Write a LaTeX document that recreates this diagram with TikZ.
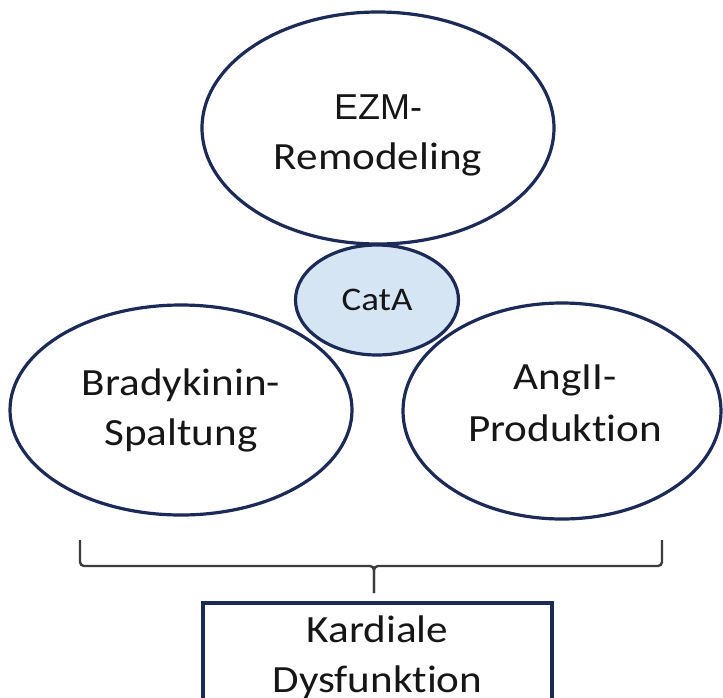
\documentclass[tikz,border=0pt]{standalone}
\usepackage{fontspec}
\setmainfont{Carlito}[FakeStretch=1.12, Ligatures={NoCommon}]
\newfontfamily\arialfont{Liberation Sans}
\usetikzlibrary{shapes.geometric}
\definecolor{navy}{HTML}{1B2A56}
\definecolor{catfill}{HTML}{D5E5F4}
\definecolor{txt}{HTML}{161616}
\definecolor{bracecol}{HTML}{3C3C3C}
\begin{document}
\begin{tikzpicture}[x=1pt,y=-1pt,
  oval/.style={ellipse, draw=navy, line width=3.2pt, fill=white, align=center,
    inner sep=0pt, text=txt, font=\fontsize{38.5}{50}\selectfont},
  bracestyle/.style={draw=bracecol, line width=2.4pt, rounded corners=4pt},
  boxstyle/.style={rectangle, draw=navy, line width=3.2pt, fill=white, align=center,
    text=txt, font=\fontsize{38.5}{50}\selectfont}]
\useasboundingbox (0,0) rectangle (723,697);
\clip (0,0) rectangle (723,697);
\fill[white] (0,0) rectangle (723,697);

\node[oval, minimum width=352pt, minimum height=232pt] (ezm) at (378,128)
  {\rule{0pt}{40pt}{\arialfont\fontsize{36}{50}\selectfont EZM-}\\Remodeling};
\node[oval, minimum width=342pt, minimum height=210pt] (brady) at (181,410)
  {Bradykinin-\\Spaltung};
\node[oval, minimum width=318pt, minimum height=216pt] (ang) at (562,411)
  {\hspace{6pt}AngII-\\[2pt]\hspace{6pt}Produktion\rule[-16pt]{0pt}{1pt}};
\node[oval, fill=catfill, minimum width=163pt, minimum height=110pt,
  font=\fontsize{33}{40}\selectfont] (cata) at (377,300) {CatA};

\coordinate (bL) at (80,540);
\coordinate (bR) at (662,540);
\coordinate (bM) at (374,566);
\coordinate (bT) at (374,593);
\draw[bracestyle] (bL) |- (bM) -- (bT);
\draw[bracestyle] (bR) |- (bM) -- (bT);

\node[boxstyle, minimum width=349pt, minimum height=108pt] (kd) at (377.5,657)
  {Kardiale\\Dysfunktion};
\end{tikzpicture}
\end{document}
